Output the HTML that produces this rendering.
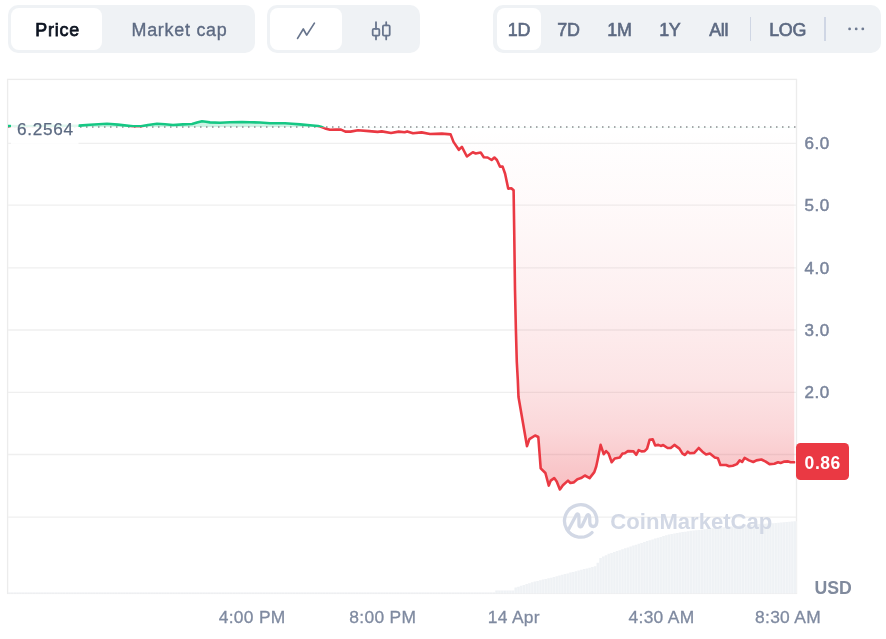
<!DOCTYPE html>
<html><head><meta charset="utf-8"><title>Chart</title>
<style>
html,body{margin:0;padding:0;background:#fff;}
body{will-change:transform;width:886px;height:639px;position:relative;overflow:hidden;font-family:"Liberation Sans",sans-serif;}
.grp{position:absolute;top:5px;height:48px;background:#eff2f5;border-radius:10px;}
.pill{position:absolute;top:3px;height:42px;background:#fff;border-radius:8px;}
.t{position:absolute;top:1.3px;height:48px;line-height:49.6px;font-size:17.9px;text-align:center;white-space:nowrap;color:#5d6a82;}
.b{-webkit-text-stroke:0.6px #5d6a82;letter-spacing:-0.3px;}
.yl{position:absolute;left:804.6px;font-size:17px;line-height:20px;color:#7a859c;letter-spacing:0.55px;white-space:nowrap;-webkit-text-stroke:0.5px #7a859c;}
.xl{position:absolute;top:607.2px;width:100px;text-align:center;font-size:17.4px;line-height:20px;color:#7f8aa0;letter-spacing:0.3px;white-space:nowrap;-webkit-text-stroke:0.3px #7f8aa0;}
svg{position:absolute;left:0;top:0;}
</style></head><body>
<!-- top controls -->
<div class="grp" style="left:8px;width:247px;">
  <div class="pill" style="left:3px;width:91px;"></div>
  <div class="t" style="left:4.2px;width:91px;color:#0d1421;letter-spacing:0.8px;-webkit-text-stroke:0.75px #0d1421;">Price</div>
  <div class="t" style="left:95px;width:153px;letter-spacing:0.75px;-webkit-text-stroke:0.35px #5d6a82;">Market cap</div>
</div>
<div class="grp" style="left:267px;width:153px;">
  <div class="pill" style="left:3px;width:72px;"></div>
</div>
<div class="grp" style="left:493px;width:388px;">
  <div class="pill" style="left:4px;width:44px;"></div>
  <div class="t b" style="left:1.0px;width:50px;">1D</div>
  <div class="t b" style="left:50.5px;width:50px;">7D</div>
  <div class="t b" style="left:101.5px;width:50px;">1M</div>
  <div class="t b" style="left:151.8px;width:50px;">1Y</div>
  <div class="t b" style="left:200.7px;width:50px;">All</div>
  <div class="t b" style="left:264.6px;width:60px;">LOG</div>
  <div style="position:absolute;left:257px;top:12px;width:1.4px;height:24px;background:#cfd6e4;"></div>
  <div style="position:absolute;left:331.4px;top:12px;width:1.4px;height:24px;background:#cfd6e4;"></div>
</div>

<svg width="886" height="639" viewBox="0 0 886 639">
  <defs>
    <linearGradient id="rg" gradientUnits="userSpaceOnUse" x1="0" y1="127" x2="0" y2="492">
      <stop offset="0" stop-color="#ea3943" stop-opacity="0"/>
      <stop offset="0.2" stop-color="#ea3943" stop-opacity="0.025"/>
      <stop offset="0.466" stop-color="#ea3943" stop-opacity="0.075"/>
      <stop offset="0.693" stop-color="#ea3943" stop-opacity="0.135"/>
      <stop offset="0.83" stop-color="#ea3943" stop-opacity="0.20"/>
      <stop offset="0.918" stop-color="#ea3943" stop-opacity="0.27"/>
      <stop offset="1" stop-color="#ea3943" stop-opacity="0.33"/>
    </linearGradient>
    <clipPath id="above"><rect x="8" y="0" width="787.5" height="127.3"/></clipPath>
    <clipPath id="below"><rect x="8" y="127.3" width="787.5" height="520"/></clipPath>
  </defs>
  <!-- icons in header -->
  <path d="M297.6 38.4 L303.3 29 L306.7 35.1 L314.4 23.1" fill="none" stroke="#68758d" stroke-width="1.7" stroke-linecap="round" stroke-linejoin="round"/>
  <g fill="none" stroke="#68758d" stroke-width="1.8" stroke-linecap="round">
    <path d="M376 22.2V28.9M376 35.7V39.4M386.2 22.2V25.3M386.2 35.7V39.4"/>
    <rect x="372.7" y="28.9" width="6.6" height="6.8" rx="1.2"/>
    <rect x="382.9" y="25.3" width="6.8" height="10.4" rx="1.2"/>
  </g>
  <g fill="#6f7b92"><circle cx="849.6" cy="28.9" r="1.4"/><circle cx="856.2" cy="28.9" r="1.4"/><circle cx="862.8" cy="28.9" r="1.4"/></g>
  <!-- frame -->
  <rect x="7.6" y="79.4" width="788.9" height="514" fill="none" stroke="#ececec" stroke-width="1.3"/>
  <line x1="8" x2="796" y1="143.4" y2="143.4" stroke="#efefef" stroke-width="1.3"/><line x1="8" x2="796" y1="205.1" y2="205.1" stroke="#efefef" stroke-width="1.3"/><line x1="8" x2="796" y1="267.9" y2="267.9" stroke="#efefef" stroke-width="1.3"/><line x1="8" x2="796" y1="330.0" y2="330.0" stroke="#efefef" stroke-width="1.3"/><line x1="8" x2="796" y1="392.3" y2="392.3" stroke="#efefef" stroke-width="1.3"/><line x1="8" x2="796" y1="454.5" y2="454.5" stroke="#efefef" stroke-width="1.3"/><line x1="8" x2="796" y1="517.1" y2="517.1" stroke="#efefef" stroke-width="1.3"/>
  <!-- volume -->
  <path d="M8 593.5 L8.00 592.4 L10.74 592.4 L10.74 592.4 L13.48 592.4 L13.47 592.4 L16.21 592.4 L16.21 592.4 L18.95 592.4 L18.95 592.4 L21.69 592.4 L21.69 592.4 L24.43 592.4 L24.42 592.4 L27.16 592.4 L27.16 592.4 L29.90 592.4 L29.90 592.4 L32.64 592.4 L32.64 592.4 L35.38 592.4 L35.38 592.4 L38.11 592.4 L38.11 592.4 L40.85 592.4 L40.85 592.4 L43.59 592.4 L43.59 592.4 L46.32 592.4 L46.32 592.4 L49.06 592.4 L49.06 592.4 L51.80 592.4 L51.80 592.4 L54.54 592.4 L54.54 592.4 L57.27 592.4 L57.27 592.4 L60.01 592.4 L60.01 592.4 L62.75 592.4 L62.75 592.4 L65.49 592.4 L65.49 592.4 L68.22 592.4 L68.22 592.4 L70.96 592.4 L70.96 592.4 L73.70 592.4 L73.70 592.4 L76.44 592.4 L76.44 592.4 L79.17 592.4 L79.17 592.4 L81.91 592.4 L81.91 592.4 L84.65 592.4 L84.65 592.4 L87.39 592.4 L87.39 592.4 L90.12 592.4 L90.12 592.4 L92.86 592.4 L92.86 592.4 L95.60 592.4 L95.60 592.4 L98.34 592.4 L98.34 592.4 L101.07 592.4 L101.07 592.4 L103.81 592.4 L103.81 592.4 L106.55 592.4 L106.55 592.4 L109.29 592.4 L109.29 592.4 L112.02 592.4 L112.02 592.4 L114.76 592.4 L114.76 592.4 L117.50 592.4 L117.50 592.4 L120.24 592.4 L120.24 592.4 L122.97 592.4 L122.97 592.4 L125.71 592.4 L125.71 592.4 L128.45 592.4 L128.45 592.4 L131.19 592.4 L131.19 592.4 L133.93 592.4 L133.93 592.4 L136.66 592.4 L136.66 592.4 L139.40 592.4 L139.40 592.4 L142.14 592.4 L142.14 592.4 L144.88 592.4 L144.88 592.4 L147.61 592.4 L147.61 592.4 L150.35 592.4 L150.35 592.4 L153.09 592.4 L153.09 592.4 L155.82 592.4 L155.82 592.4 L158.56 592.4 L158.56 592.4 L161.30 592.4 L161.30 592.4 L164.04 592.4 L164.04 592.4 L166.78 592.4 L166.77 592.4 L169.51 592.4 L169.51 592.4 L172.25 592.4 L172.25 592.4 L174.99 592.4 L174.99 592.4 L177.72 592.4 L177.72 592.4 L180.46 592.4 L180.46 592.4 L183.20 592.4 L183.20 592.4 L185.94 592.4 L185.94 592.4 L188.68 592.4 L188.67 592.4 L191.41 592.4 L191.41 592.4 L194.15 592.4 L194.15 592.4 L196.89 592.4 L196.89 592.4 L199.62 592.4 L199.62 592.4 L202.36 592.4 L202.36 592.4 L205.10 592.4 L205.10 592.4 L207.84 592.4 L207.84 592.4 L210.57 592.4 L210.57 592.4 L213.31 592.4 L213.31 592.4 L216.05 592.4 L216.05 592.4 L218.79 592.4 L218.79 592.4 L221.53 592.4 L221.52 592.4 L224.26 592.4 L224.26 592.4 L227.00 592.4 L227.00 592.4 L229.74 592.4 L229.74 592.4 L232.47 592.4 L232.47 592.4 L235.21 592.4 L235.21 592.4 L237.95 592.4 L237.95 592.4 L240.69 592.4 L240.69 592.4 L243.42 592.4 L243.42 592.4 L246.16 592.4 L246.16 592.4 L248.90 592.4 L248.90 592.4 L251.64 592.4 L251.64 592.4 L254.38 592.4 L254.37 592.4 L257.11 592.4 L257.11 592.4 L259.85 592.4 L259.85 592.4 L262.59 592.4 L262.59 592.4 L265.32 592.4 L265.32 592.4 L268.06 592.4 L268.06 592.4 L270.80 592.4 L270.80 592.4 L273.54 592.4 L273.54 592.4 L276.27 592.4 L276.27 592.4 L279.01 592.4 L279.01 592.4 L281.75 592.4 L281.75 592.4 L284.49 592.4 L284.49 592.4 L287.22 592.4 L287.22 592.4 L289.96 592.4 L289.96 592.4 L292.70 592.4 L292.70 592.4 L295.44 592.4 L295.44 592.4 L298.18 592.4 L298.17 592.4 L300.91 592.4 L300.91 592.4 L303.65 592.4 L303.65 592.4 L306.39 592.4 L306.39 592.4 L309.12 592.4 L309.12 592.4 L311.86 592.4 L311.86 592.4 L314.60 592.4 L314.60 592.4 L317.34 592.4 L317.34 592.4 L320.07 592.4 L320.07 592.4 L322.81 592.4 L322.81 592.4 L325.55 592.4 L325.55 592.4 L328.29 592.4 L328.29 592.4 L331.02 592.4 L331.02 592.4 L333.76 592.4 L333.76 592.4 L336.50 592.4 L336.50 592.4 L339.24 592.4 L339.24 592.4 L341.97 592.4 L341.97 592.4 L344.71 592.4 L344.71 592.4 L347.45 592.4 L347.45 592.4 L350.19 592.4 L350.19 592.4 L352.93 592.4 L352.92 592.4 L355.66 592.4 L355.66 592.4 L358.40 592.4 L358.40 592.4 L361.14 592.4 L361.14 592.4 L363.88 592.4 L363.88 592.4 L366.61 592.4 L366.61 592.4 L369.35 592.4 L369.35 592.4 L372.09 592.4 L372.09 592.4 L374.82 592.4 L374.82 592.4 L377.56 592.4 L377.56 592.4 L380.30 592.4 L380.30 592.4 L383.04 592.4 L383.04 592.4 L385.77 592.4 L385.77 592.4 L388.51 592.4 L388.51 592.4 L391.25 592.4 L391.25 592.4 L393.99 592.4 L393.99 592.4 L396.72 592.4 L396.72 592.4 L399.46 592.4 L399.46 592.4 L402.20 592.4 L402.20 592.4 L404.94 592.4 L404.94 592.4 L407.68 592.4 L407.67 592.4 L410.41 592.4 L410.41 592.4 L413.15 592.4 L413.15 592.4 L415.89 592.4 L415.89 592.4 L418.62 592.4 L418.62 592.4 L421.36 592.4 L421.36 592.4 L424.10 592.4 L424.10 592.4 L426.84 592.4 L426.84 592.4 L429.57 592.4 L429.57 592.4 L432.31 592.4 L432.31 592.4 L435.05 592.4 L435.05 592.4 L437.79 592.4 L437.79 592.4 L440.52 592.4 L440.52 592.4 L443.26 592.4 L443.26 592.4 L446.00 592.4 L446.00 592.4 L448.74 592.4 L448.74 592.4 L451.47 592.4 L451.47 592.4 L454.21 592.4 L454.21 592.4 L456.95 592.4 L456.95 592.4 L459.69 592.4 L459.69 592.4 L462.42 592.4 L462.42 592.4 L465.16 592.4 L465.16 592.4 L467.90 592.4 L467.90 592.4 L470.64 592.4 L470.64 592.4 L473.38 592.4 L473.37 592.4 L476.11 592.4 L476.11 592.4 L478.85 592.4 L478.85 592.4 L481.59 592.4 L481.59 592.4 L484.32 592.4 L484.32 592.4 L487.06 592.4 L487.06 592.4 L489.80 592.4 L489.80 592.4 L492.54 592.4 L492.54 592.4 L495.27 592.4 L495.27 590.4 L498.01 590.4 L498.01 590.4 L500.75 590.4 L500.75 590.4 L503.49 590.4 L503.49 590.4 L506.22 590.4 L506.22 590.4 L508.96 590.4 L508.96 590.4 L511.70 590.4 L511.70 590.4 L514.44 590.4 L514.44 587.6 L517.17 587.6 L517.17 586.7 L519.91 586.7 L519.91 585.8 L522.65 585.8 L522.65 584.9 L525.39 584.9 L525.39 584.1 L528.12 584.1 L528.12 583.2 L530.86 583.2 L530.86 582.3 L533.60 582.3 L533.60 581.5 L536.34 581.5 L536.34 580.9 L539.07 580.9 L539.07 580.3 L541.81 580.3 L541.81 579.6 L544.55 579.6 L544.55 579.0 L547.29 579.0 L547.29 578.3 L550.02 578.3 L550.02 577.7 L552.76 577.7 L552.76 577.0 L555.50 577.0 L555.50 576.3 L558.24 576.3 L558.24 575.6 L560.97 575.6 L560.97 574.8 L563.71 574.8 L563.71 574.1 L566.45 574.1 L566.45 573.4 L569.19 573.4 L569.19 572.6 L571.92 572.6 L571.92 571.9 L574.66 571.9 L574.66 571.2 L577.40 571.2 L577.40 570.5 L580.14 570.5 L580.14 569.8 L582.87 569.8 L582.88 569.1 L585.61 569.1 L585.61 568.4 L588.35 568.4 L588.35 567.7 L591.09 567.7 L591.09 566.9 L593.82 566.9 L593.82 566.2 L596.56 566.2 L596.56 562.7 L599.30 562.7 L599.30 558.0 L602.04 558.0 L602.04 556.6 L604.77 556.6 L604.77 555.2 L607.51 555.2 L607.51 553.8 L610.25 553.8 L610.25 552.9 L612.99 552.9 L612.99 552.0 L615.72 552.0 L615.72 551.1 L618.46 551.1 L618.46 550.2 L621.20 550.2 L621.20 549.3 L623.94 549.3 L623.94 548.3 L626.67 548.3 L626.67 547.4 L629.41 547.4 L629.41 546.5 L632.15 546.5 L632.15 545.6 L634.89 545.6 L634.89 544.7 L637.62 544.7 L637.62 543.8 L640.36 543.8 L640.36 542.9 L643.10 542.9 L643.10 542.0 L645.84 542.0 L645.84 541.1 L648.57 541.1 L648.57 540.2 L651.31 540.2 L651.31 539.4 L654.05 539.4 L654.05 538.6 L656.79 538.6 L656.79 537.7 L659.52 537.7 L659.52 536.9 L662.26 536.9 L662.26 536.1 L665.00 536.1 L665.00 535.3 L667.74 535.3 L667.74 534.5 L670.47 534.5 L670.47 534.0 L673.21 534.0 L673.21 533.5 L675.95 533.5 L675.95 533.1 L678.69 533.1 L678.69 532.6 L681.42 532.6 L681.42 532.1 L684.16 532.1 L684.16 531.7 L686.90 531.7 L686.90 531.2 L689.64 531.2 L689.64 530.8 L692.37 530.8 L692.38 530.5 L695.11 530.5 L695.11 530.2 L697.85 530.2 L697.85 529.9 L700.59 529.9 L700.59 529.5 L703.32 529.5 L703.32 529.2 L706.06 529.2 L706.06 528.9 L708.80 528.9 L708.80 528.6 L711.54 528.6 L711.54 528.3 L714.27 528.3 L714.27 528.0 L717.01 528.0 L717.01 527.8 L719.75 527.8 L719.75 527.5 L722.49 527.5 L722.49 527.2 L725.22 527.2 L725.22 526.9 L727.96 526.9 L727.96 526.7 L730.70 526.7 L730.70 526.4 L733.44 526.4 L733.44 526.1 L736.17 526.1 L736.17 525.9 L738.91 525.9 L738.91 525.6 L741.65 525.6 L741.65 525.4 L744.39 525.4 L744.39 525.2 L747.12 525.2 L747.12 524.9 L749.86 524.9 L749.86 524.7 L752.60 524.7 L752.60 524.5 L755.34 524.5 L755.34 524.3 L758.07 524.3 L758.07 524.1 L760.81 524.1 L760.81 523.9 L763.55 523.9 L763.55 523.7 L766.29 523.7 L766.29 523.5 L769.02 523.5 L769.02 523.4 L771.76 523.4 L771.76 523.2 L774.50 523.2 L774.50 523.0 L777.24 523.0 L777.24 522.8 L779.97 522.8 L779.97 522.5 L782.71 522.5 L782.71 522.3 L785.45 522.3 L785.45 522.0 L788.19 522.0 L788.19 521.7 L790.92 521.7 L790.92 521.4 L793.66 521.4 L793.66 521.2 L796.40 521.2 L796.4 593.5 Z" fill="#eff2f5"/>
  <path d="M10.74 592.4V593.5M13.48 592.4V593.5M16.21 592.4V593.5M18.95 592.4V593.5M21.69 592.4V593.5M24.43 592.4V593.5M27.16 592.4V593.5M29.90 592.4V593.5M32.64 592.4V593.5M35.38 592.4V593.5M38.11 592.4V593.5M40.85 592.4V593.5M43.59 592.4V593.5M46.32 592.4V593.5M49.06 592.4V593.5M51.80 592.4V593.5M54.54 592.4V593.5M57.27 592.4V593.5M60.01 592.4V593.5M62.75 592.4V593.5M65.49 592.4V593.5M68.22 592.4V593.5M70.96 592.4V593.5M73.70 592.4V593.5M76.44 592.4V593.5M79.17 592.4V593.5M81.91 592.4V593.5M84.65 592.4V593.5M87.39 592.4V593.5M90.12 592.4V593.5M92.86 592.4V593.5M95.60 592.4V593.5M98.34 592.4V593.5M101.07 592.4V593.5M103.81 592.4V593.5M106.55 592.4V593.5M109.29 592.4V593.5M112.02 592.4V593.5M114.76 592.4V593.5M117.50 592.4V593.5M120.24 592.4V593.5M122.97 592.4V593.5M125.71 592.4V593.5M128.45 592.4V593.5M131.19 592.4V593.5M133.93 592.4V593.5M136.66 592.4V593.5M139.40 592.4V593.5M142.14 592.4V593.5M144.88 592.4V593.5M147.61 592.4V593.5M150.35 592.4V593.5M153.09 592.4V593.5M155.82 592.4V593.5M158.56 592.4V593.5M161.30 592.4V593.5M164.04 592.4V593.5M166.78 592.4V593.5M169.51 592.4V593.5M172.25 592.4V593.5M174.99 592.4V593.5M177.72 592.4V593.5M180.46 592.4V593.5M183.20 592.4V593.5M185.94 592.4V593.5M188.68 592.4V593.5M191.41 592.4V593.5M194.15 592.4V593.5M196.89 592.4V593.5M199.62 592.4V593.5M202.36 592.4V593.5M205.10 592.4V593.5M207.84 592.4V593.5M210.57 592.4V593.5M213.31 592.4V593.5M216.05 592.4V593.5M218.79 592.4V593.5M221.53 592.4V593.5M224.26 592.4V593.5M227.00 592.4V593.5M229.74 592.4V593.5M232.47 592.4V593.5M235.21 592.4V593.5M237.95 592.4V593.5M240.69 592.4V593.5M243.42 592.4V593.5M246.16 592.4V593.5M248.90 592.4V593.5M251.64 592.4V593.5M254.38 592.4V593.5M257.11 592.4V593.5M259.85 592.4V593.5M262.59 592.4V593.5M265.32 592.4V593.5M268.06 592.4V593.5M270.80 592.4V593.5M273.54 592.4V593.5M276.27 592.4V593.5M279.01 592.4V593.5M281.75 592.4V593.5M284.49 592.4V593.5M287.22 592.4V593.5M289.96 592.4V593.5M292.70 592.4V593.5M295.44 592.4V593.5M298.18 592.4V593.5M300.91 592.4V593.5M303.65 592.4V593.5M306.39 592.4V593.5M309.12 592.4V593.5M311.86 592.4V593.5M314.60 592.4V593.5M317.34 592.4V593.5M320.07 592.4V593.5M322.81 592.4V593.5M325.55 592.4V593.5M328.29 592.4V593.5M331.02 592.4V593.5M333.76 592.4V593.5M336.50 592.4V593.5M339.24 592.4V593.5M341.97 592.4V593.5M344.71 592.4V593.5M347.45 592.4V593.5M350.19 592.4V593.5M352.93 592.4V593.5M355.66 592.4V593.5M358.40 592.4V593.5M361.14 592.4V593.5M363.88 592.4V593.5M366.61 592.4V593.5M369.35 592.4V593.5M372.09 592.4V593.5M374.82 592.4V593.5M377.56 592.4V593.5M380.30 592.4V593.5M383.04 592.4V593.5M385.77 592.4V593.5M388.51 592.4V593.5M391.25 592.4V593.5M393.99 592.4V593.5M396.72 592.4V593.5M399.46 592.4V593.5M402.20 592.4V593.5M404.94 592.4V593.5M407.68 592.4V593.5M410.41 592.4V593.5M413.15 592.4V593.5M415.89 592.4V593.5M418.62 592.4V593.5M421.36 592.4V593.5M424.10 592.4V593.5M426.84 592.4V593.5M429.57 592.4V593.5M432.31 592.4V593.5M435.05 592.4V593.5M437.79 592.4V593.5M440.52 592.4V593.5M443.26 592.4V593.5M446.00 592.4V593.5M448.74 592.4V593.5M451.47 592.4V593.5M454.21 592.4V593.5M456.95 592.4V593.5M459.69 592.4V593.5M462.42 592.4V593.5M465.16 592.4V593.5M467.90 592.4V593.5M470.64 592.4V593.5M473.38 592.4V593.5M476.11 592.4V593.5M478.85 592.4V593.5M481.59 592.4V593.5M484.32 592.4V593.5M487.06 592.4V593.5M489.80 592.4V593.5M492.54 592.4V593.5M495.27 592.4V593.5M498.01 590.4V593.5M500.75 590.4V593.5M503.49 590.4V593.5M506.22 590.4V593.5M508.96 590.4V593.5M511.70 590.4V593.5M514.44 590.4V593.5M517.17 587.6V593.5M519.91 586.7V593.5M522.65 585.8V593.5M525.39 584.9V593.5M528.12 584.1V593.5M530.86 583.2V593.5M533.60 582.3V593.5M536.34 581.5V593.5M539.07 580.9V593.5M541.81 580.3V593.5M544.55 579.6V593.5M547.29 579.0V593.5M550.02 578.3V593.5M552.76 577.7V593.5M555.50 577.0V593.5M558.24 576.3V593.5M560.97 575.6V593.5M563.71 574.8V593.5M566.45 574.1V593.5M569.19 573.4V593.5M571.92 572.6V593.5M574.66 571.9V593.5M577.40 571.2V593.5M580.14 570.5V593.5M582.87 569.8V593.5M585.61 569.1V593.5M588.35 568.4V593.5M591.09 567.7V593.5M593.82 566.9V593.5M596.56 566.2V593.5M599.30 562.7V593.5M602.04 558.0V593.5M604.77 556.6V593.5M607.51 555.2V593.5M610.25 553.8V593.5M612.99 552.9V593.5M615.72 552.0V593.5M618.46 551.1V593.5M621.20 550.2V593.5M623.94 549.3V593.5M626.67 548.3V593.5M629.41 547.4V593.5M632.15 546.5V593.5M634.89 545.6V593.5M637.62 544.7V593.5M640.36 543.8V593.5M643.10 542.9V593.5M645.84 542.0V593.5M648.57 541.1V593.5M651.31 540.2V593.5M654.05 539.4V593.5M656.79 538.6V593.5M659.52 537.7V593.5M662.26 536.9V593.5M665.00 536.1V593.5M667.74 535.3V593.5M670.47 534.5V593.5M673.21 534.0V593.5M675.95 533.5V593.5M678.69 533.1V593.5M681.42 532.6V593.5M684.16 532.1V593.5M686.90 531.7V593.5M689.64 531.2V593.5M692.37 530.8V593.5M695.11 530.5V593.5M697.85 530.2V593.5M700.59 529.9V593.5M703.32 529.5V593.5M706.06 529.2V593.5M708.80 528.9V593.5M711.54 528.6V593.5M714.27 528.3V593.5M717.01 528.0V593.5M719.75 527.8V593.5M722.49 527.5V593.5M725.22 527.2V593.5M727.96 526.9V593.5M730.70 526.7V593.5M733.44 526.4V593.5M736.17 526.1V593.5M738.91 525.9V593.5M741.65 525.6V593.5M744.39 525.4V593.5M747.12 525.2V593.5M749.86 524.9V593.5M752.60 524.7V593.5M755.34 524.5V593.5M758.07 524.3V593.5M760.81 524.1V593.5M763.55 523.9V593.5M766.29 523.7V593.5M769.02 523.5V593.5M771.76 523.4V593.5M774.50 523.2V593.5M777.24 523.0V593.5M779.97 522.8V593.5M782.71 522.5V593.5M785.45 522.3V593.5M788.19 522.0V593.5M790.92 521.7V593.5M793.66 521.4V593.5M796.40 521.2V593.5" fill="none" stroke="#fff" stroke-opacity="0.5" stroke-width="0.7"/>
  <!-- watermark -->
  <g fill="none" stroke="#d2d8e5" stroke-width="3.3" stroke-linecap="round" stroke-linejoin="round">
    <path d="M592 532.6 A16.2 16.2 0 1 1 596.9 520.4 C597 524.2 595.8 526.5 593.3 526.5 C591.2 526.5 589.9 525 589.8 522.5 L589.7 517.2 C589.7 514.4 587.9 513.9 586.7 515.9 L582.3 525.2 C581.2 527.6 579 527.3 579 524.8 L578.9 516.6 C578.9 513.6 577.2 513.3 576 515.4 L568.8 529.1"/>
  </g>
  <text x="610.3" y="529.4" font-family="Liberation Sans, sans-serif" font-weight="bold" font-size="22.1px" letter-spacing="0" fill="#d2d8e5">CoinMarketCap</text>
  <!-- area fills -->
  <path d="M8.0 126.0 L20.0 126.2 L40.0 126.0 L60.0 125.8 L79.0 125.6 L90.0 124.8 L107.0 123.8 L118.0 124.6 L133.0 126.2 L141.0 126.2 L148.0 125.0 L157.0 123.8 L165.0 124.3 L173.0 125.0 L183.0 124.4 L192.0 124.0 L197.0 122.6 L202.0 121.2 L206.0 121.8 L210.0 122.4 L220.0 122.8 L230.0 122.2 L242.0 122.0 L250.0 122.3 L260.0 122.5 L270.0 123.2 L285.0 123.2 L292.0 123.8 L300.0 124.4 L310.0 125.2 L318.0 126.0 L321.0 126.8 L325.0 128.4 L330.0 129.8 L336.0 129.6 L341.0 129.6 L345.4 131.6 L350.5 131.6 L358.0 130.2 L369.0 131.1 L377.6 131.9 L381.8 131.4 L391.0 133.0 L398.7 131.6 L404.6 132.3 L407.2 131.4 L413.0 133.3 L421.6 132.4 L430.0 134.0 L441.9 133.6 L450.6 134.4 L453.5 141.9 L458.8 149.8 L461.9 146.9 L466.9 156.5 L472.8 152.3 L475.7 153.5 L480.7 152.5 L483.8 157.2 L487.6 157.5 L491.6 160.0 L494.4 157.5 L496.9 160.0 L500.0 166.6 L502.6 166.6 L505.1 173.8 L508.2 188.6 L511.3 188.2 L513.6 190.3 L514.2 230.0 L515.0 290.0 L515.9 330.0 L516.8 362.0 L517.8 380.0 L518.5 397.0 L527.0 446.2 L529.4 439.2 L535.1 435.5 L538.3 437.0 L540.7 468.3 L545.4 473.0 L548.8 485.6 L550.7 480.6 L554.2 478.1 L556.7 481.5 L559.9 489.4 L562.9 485.3 L568.0 480.6 L570.4 483.0 L573.6 482.4 L577.4 479.2 L581.1 478.1 L584.9 475.5 L589.6 478.1 L594.3 472.1 L596.2 466.5 L597.6 460.0 L600.6 444.9 L603.7 454.2 L606.1 451.1 L608.6 453.6 L611.7 462.2 L614.8 458.5 L619.8 457.5 L622.5 453.6 L624.8 453.3 L627.9 451.1 L633.5 451.4 L636.2 454.8 L638.7 450.2 L641.5 451.4 L644.6 451.1 L647.1 448.6 L649.6 439.9 L652.7 439.3 L655.2 445.5 L658.3 444.9 L660.8 445.9 L663.2 445.1 L667.6 448.0 L670.7 448.0 L674.4 444.9 L679.4 448.6 L682.5 453.6 L685.0 455.0 L687.8 451.7 L689.9 453.3 L694.3 452.9 L698.7 448.0 L702.4 451.7 L706.1 454.5 L709.9 453.6 L714.8 457.5 L717.9 458.3 L720.4 465.0 L726.0 465.0 L729.1 466.3 L732.8 465.7 L736.9 464.1 L739.7 460.4 L742.1 462.0 L744.6 457.9 L749.0 460.4 L753.3 462.0 L756.4 460.4 L761.4 459.5 L765.7 461.6 L769.5 464.1 L774.4 463.7 L778.1 462.2 L780.6 462.9 L784.4 461.6 L788.1 461.4 L790.6 462.2 L794.3 462.2 L794.3 127.3 L8.0 127.3 Z" fill="#16c784" fill-opacity="0.22" clip-path="url(#above)"/>
  <path d="M8.0 126.0 L20.0 126.2 L40.0 126.0 L60.0 125.8 L79.0 125.6 L90.0 124.8 L107.0 123.8 L118.0 124.6 L133.0 126.2 L141.0 126.2 L148.0 125.0 L157.0 123.8 L165.0 124.3 L173.0 125.0 L183.0 124.4 L192.0 124.0 L197.0 122.6 L202.0 121.2 L206.0 121.8 L210.0 122.4 L220.0 122.8 L230.0 122.2 L242.0 122.0 L250.0 122.3 L260.0 122.5 L270.0 123.2 L285.0 123.2 L292.0 123.8 L300.0 124.4 L310.0 125.2 L318.0 126.0 L321.0 126.8 L325.0 128.4 L330.0 129.8 L336.0 129.6 L341.0 129.6 L345.4 131.6 L350.5 131.6 L358.0 130.2 L369.0 131.1 L377.6 131.9 L381.8 131.4 L391.0 133.0 L398.7 131.6 L404.6 132.3 L407.2 131.4 L413.0 133.3 L421.6 132.4 L430.0 134.0 L441.9 133.6 L450.6 134.4 L453.5 141.9 L458.8 149.8 L461.9 146.9 L466.9 156.5 L472.8 152.3 L475.7 153.5 L480.7 152.5 L483.8 157.2 L487.6 157.5 L491.6 160.0 L494.4 157.5 L496.9 160.0 L500.0 166.6 L502.6 166.6 L505.1 173.8 L508.2 188.6 L511.3 188.2 L513.6 190.3 L514.2 230.0 L515.0 290.0 L515.9 330.0 L516.8 362.0 L517.8 380.0 L518.5 397.0 L527.0 446.2 L529.4 439.2 L535.1 435.5 L538.3 437.0 L540.7 468.3 L545.4 473.0 L548.8 485.6 L550.7 480.6 L554.2 478.1 L556.7 481.5 L559.9 489.4 L562.9 485.3 L568.0 480.6 L570.4 483.0 L573.6 482.4 L577.4 479.2 L581.1 478.1 L584.9 475.5 L589.6 478.1 L594.3 472.1 L596.2 466.5 L597.6 460.0 L600.6 444.9 L603.7 454.2 L606.1 451.1 L608.6 453.6 L611.7 462.2 L614.8 458.5 L619.8 457.5 L622.5 453.6 L624.8 453.3 L627.9 451.1 L633.5 451.4 L636.2 454.8 L638.7 450.2 L641.5 451.4 L644.6 451.1 L647.1 448.6 L649.6 439.9 L652.7 439.3 L655.2 445.5 L658.3 444.9 L660.8 445.9 L663.2 445.1 L667.6 448.0 L670.7 448.0 L674.4 444.9 L679.4 448.6 L682.5 453.6 L685.0 455.0 L687.8 451.7 L689.9 453.3 L694.3 452.9 L698.7 448.0 L702.4 451.7 L706.1 454.5 L709.9 453.6 L714.8 457.5 L717.9 458.3 L720.4 465.0 L726.0 465.0 L729.1 466.3 L732.8 465.7 L736.9 464.1 L739.7 460.4 L742.1 462.0 L744.6 457.9 L749.0 460.4 L753.3 462.0 L756.4 460.4 L761.4 459.5 L765.7 461.6 L769.5 464.1 L774.4 463.7 L778.1 462.2 L780.6 462.9 L784.4 461.6 L788.1 461.4 L790.6 462.2 L794.3 462.2 L794.3 127.3 L8.0 127.3 Z" fill="url(#rg)" clip-path="url(#below)"/>
  <!-- baseline dotted -->
  <line x1="8" x2="796" y1="127.05" y2="127.05" stroke="#8b8d91" stroke-width="1.4" stroke-dasharray="1.5 4.5" stroke-dashoffset="-0.0"/>
  <!-- price line -->
  <path d="M8.0 126.0 L20.0 126.2 L40.0 126.0 L60.0 125.8 L79.0 125.6 L90.0 124.8 L107.0 123.8 L118.0 124.6 L133.0 126.2 L141.0 126.2 L148.0 125.0 L157.0 123.8 L165.0 124.3 L173.0 125.0 L183.0 124.4 L192.0 124.0 L197.0 122.6 L202.0 121.2 L206.0 121.8 L210.0 122.4 L220.0 122.8 L230.0 122.2 L242.0 122.0 L250.0 122.3 L260.0 122.5 L270.0 123.2 L285.0 123.2 L292.0 123.8 L300.0 124.4 L310.0 125.2 L318.0 126.0 L321.0 126.8 L325.0 128.4 L330.0 129.8 L336.0 129.6 L341.0 129.6 L345.4 131.6 L350.5 131.6 L358.0 130.2 L369.0 131.1 L377.6 131.9 L381.8 131.4 L391.0 133.0 L398.7 131.6 L404.6 132.3 L407.2 131.4 L413.0 133.3 L421.6 132.4 L430.0 134.0 L441.9 133.6 L450.6 134.4 L453.5 141.9 L458.8 149.8 L461.9 146.9 L466.9 156.5 L472.8 152.3 L475.7 153.5 L480.7 152.5 L483.8 157.2 L487.6 157.5 L491.6 160.0 L494.4 157.5 L496.9 160.0 L500.0 166.6 L502.6 166.6 L505.1 173.8 L508.2 188.6 L511.3 188.2 L513.6 190.3 L514.2 230.0 L515.0 290.0 L515.9 330.0 L516.8 362.0 L517.8 380.0 L518.5 397.0 L527.0 446.2 L529.4 439.2 L535.1 435.5 L538.3 437.0 L540.7 468.3 L545.4 473.0 L548.8 485.6 L550.7 480.6 L554.2 478.1 L556.7 481.5 L559.9 489.4 L562.9 485.3 L568.0 480.6 L570.4 483.0 L573.6 482.4 L577.4 479.2 L581.1 478.1 L584.9 475.5 L589.6 478.1 L594.3 472.1 L596.2 466.5 L597.6 460.0 L600.6 444.9 L603.7 454.2 L606.1 451.1 L608.6 453.6 L611.7 462.2 L614.8 458.5 L619.8 457.5 L622.5 453.6 L624.8 453.3 L627.9 451.1 L633.5 451.4 L636.2 454.8 L638.7 450.2 L641.5 451.4 L644.6 451.1 L647.1 448.6 L649.6 439.9 L652.7 439.3 L655.2 445.5 L658.3 444.9 L660.8 445.9 L663.2 445.1 L667.6 448.0 L670.7 448.0 L674.4 444.9 L679.4 448.6 L682.5 453.6 L685.0 455.0 L687.8 451.7 L689.9 453.3 L694.3 452.9 L698.7 448.0 L702.4 451.7 L706.1 454.5 L709.9 453.6 L714.8 457.5 L717.9 458.3 L720.4 465.0 L726.0 465.0 L729.1 466.3 L732.8 465.7 L736.9 464.1 L739.7 460.4 L742.1 462.0 L744.6 457.9 L749.0 460.4 L753.3 462.0 L756.4 460.4 L761.4 459.5 L765.7 461.6 L769.5 464.1 L774.4 463.7 L778.1 462.2 L780.6 462.9 L784.4 461.6 L788.1 461.4 L790.6 462.2 L794.3 462.2" fill="none" stroke="#16c784" stroke-width="2.6" stroke-linejoin="round" stroke-linecap="round" clip-path="url(#above)"/>
  <path d="M8.0 126.0 L20.0 126.2 L40.0 126.0 L60.0 125.8 L79.0 125.6 L90.0 124.8 L107.0 123.8 L118.0 124.6 L133.0 126.2 L141.0 126.2 L148.0 125.0 L157.0 123.8 L165.0 124.3 L173.0 125.0 L183.0 124.4 L192.0 124.0 L197.0 122.6 L202.0 121.2 L206.0 121.8 L210.0 122.4 L220.0 122.8 L230.0 122.2 L242.0 122.0 L250.0 122.3 L260.0 122.5 L270.0 123.2 L285.0 123.2 L292.0 123.8 L300.0 124.4 L310.0 125.2 L318.0 126.0 L321.0 126.8 L325.0 128.4 L330.0 129.8 L336.0 129.6 L341.0 129.6 L345.4 131.6 L350.5 131.6 L358.0 130.2 L369.0 131.1 L377.6 131.9 L381.8 131.4 L391.0 133.0 L398.7 131.6 L404.6 132.3 L407.2 131.4 L413.0 133.3 L421.6 132.4 L430.0 134.0 L441.9 133.6 L450.6 134.4 L453.5 141.9 L458.8 149.8 L461.9 146.9 L466.9 156.5 L472.8 152.3 L475.7 153.5 L480.7 152.5 L483.8 157.2 L487.6 157.5 L491.6 160.0 L494.4 157.5 L496.9 160.0 L500.0 166.6 L502.6 166.6 L505.1 173.8 L508.2 188.6 L511.3 188.2 L513.6 190.3 L514.2 230.0 L515.0 290.0 L515.9 330.0 L516.8 362.0 L517.8 380.0 L518.5 397.0 L527.0 446.2 L529.4 439.2 L535.1 435.5 L538.3 437.0 L540.7 468.3 L545.4 473.0 L548.8 485.6 L550.7 480.6 L554.2 478.1 L556.7 481.5 L559.9 489.4 L562.9 485.3 L568.0 480.6 L570.4 483.0 L573.6 482.4 L577.4 479.2 L581.1 478.1 L584.9 475.5 L589.6 478.1 L594.3 472.1 L596.2 466.5 L597.6 460.0 L600.6 444.9 L603.7 454.2 L606.1 451.1 L608.6 453.6 L611.7 462.2 L614.8 458.5 L619.8 457.5 L622.5 453.6 L624.8 453.3 L627.9 451.1 L633.5 451.4 L636.2 454.8 L638.7 450.2 L641.5 451.4 L644.6 451.1 L647.1 448.6 L649.6 439.9 L652.7 439.3 L655.2 445.5 L658.3 444.9 L660.8 445.9 L663.2 445.1 L667.6 448.0 L670.7 448.0 L674.4 444.9 L679.4 448.6 L682.5 453.6 L685.0 455.0 L687.8 451.7 L689.9 453.3 L694.3 452.9 L698.7 448.0 L702.4 451.7 L706.1 454.5 L709.9 453.6 L714.8 457.5 L717.9 458.3 L720.4 465.0 L726.0 465.0 L729.1 466.3 L732.8 465.7 L736.9 464.1 L739.7 460.4 L742.1 462.0 L744.6 457.9 L749.0 460.4 L753.3 462.0 L756.4 460.4 L761.4 459.5 L765.7 461.6 L769.5 464.1 L774.4 463.7 L778.1 462.2 L780.6 462.9 L784.4 461.6 L788.1 461.4 L790.6 462.2 L794.3 462.2" fill="none" stroke="#ea3943" stroke-width="2.6" stroke-linejoin="round" stroke-linecap="round" clip-path="url(#below)"/>
  <!-- label overlay -->
  <rect x="11" y="112" width="67.5" height="34" fill="#fff" fill-opacity="0.88"/>
</svg>
<div style="position:absolute;left:17px;top:118.6px;font-size:17.2px;line-height:20px;color:#5b6981;letter-spacing:0.7px;-webkit-text-stroke:0.25px #5b6981;">6.2564</div>
<div class="yl" style="top:134.0px">6.0</div><div class="yl" style="top:195.7px">5.0</div><div class="yl" style="top:258.5px">4.0</div><div class="yl" style="top:320.6px">3.0</div><div class="yl" style="top:382.9px">2.0</div>
<div style="position:absolute;left:796px;top:443px;width:53px;height:37px;background:#ea3943;border-radius:4.5px;color:#fff;font-weight:bold;font-size:17.5px;line-height:41.4px;text-align:center;letter-spacing:0.55px;text-indent:0.5px;">0.86</div>
<div style="position:absolute;left:814.4px;top:577.9px;font-size:17.7px;line-height:20px;font-weight:bold;color:#808a9d;">USD</div>
<div class="xl" style="left:202.2px">4:00 PM</div><div class="xl" style="left:332.8px">8:00 PM</div><div class="xl" style="left:463.9px">14 Apr</div><div class="xl" style="left:611.5px">4:30 AM</div><div class="xl" style="left:738.0px">8:30 AM</div>
</body></html>
